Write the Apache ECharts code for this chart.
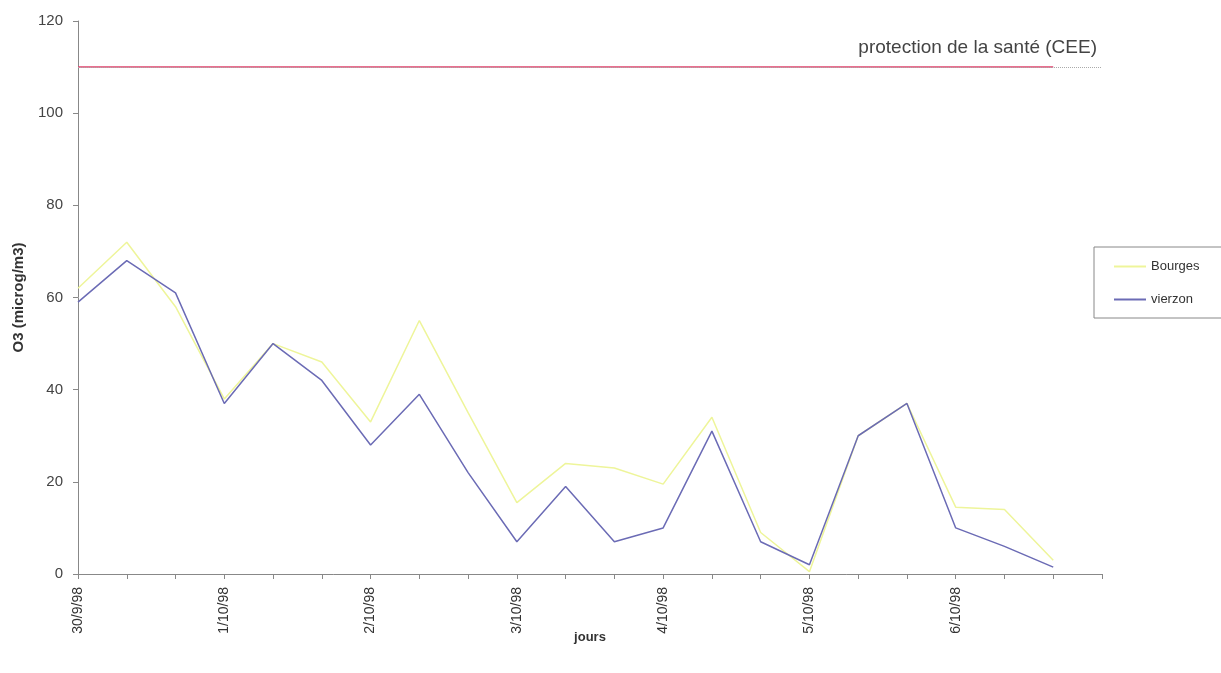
<!DOCTYPE html>
<html>
<head>
<meta charset="utf-8">
<script src="https://cdn.jsdelivr.net/npm/echarts@6/dist/echarts.min.js"></script>
<style>html,body{margin:0;padding:0;background:#fff;}#c{width:1221px;height:673px;}</style>
</head>
<body>
<div id="c"></div>
<script>
const dayLabels = ['30/9/98','1/10/98','2/10/98','3/10/98','4/10/98','5/10/98','6/10/98'];
const slots = ['0','1','2','3','4','5','6','7','8','9','10','11','12','13','14','15','16','17','18','19','20','21'];
const bourges = [62,72,58,38,50,46,33,55,35,15.5,24,23,19.5,34,9,0.5,30,37,14.5,14,3];
const vierzon = [59,68,61,37,50,42,28,39,22,7,19,7,10,31,7,2,30,37,10,6,1.5];
const seuil = [110,110,110,110,110,110,110,110,110,110,110,110,110,110,110,110,110,110,110,110,110];
const seuilLabel = 'protection de la santé (CEE)';
const seuilValue = 110;

const chart = echarts.init(document.getElementById('c'));
const font = 'Liberation Sans, Arial, sans-serif';
chart.setOption({
  animation: false,
  textStyle: { fontFamily: font },
  grid: { left: 78, right: 119, top: 21, bottom: 99 },
  legend: {
    orient: 'vertical',
    left: 1094, top: 247,
    padding: [13, 40, 12, 20],
    icon: 'rect',
    itemWidth: 32, itemHeight: 2, itemGap: 20,
    borderColor: '#888', borderWidth: 1,
    textStyle: { fontSize: 13, color: '#333', fontFamily: font },
    data: ['Bourges', 'vierzon']
  },
  xAxis: {
    type: 'category',
    data: slots,
    boundaryGap: false,
    name: 'jours',
    nameLocation: 'middle',
    nameGap: 63,
    nameMoveOverlap: false,
    nameTextStyle: { fontSize: 13, fontWeight: 'bold', color: '#333', verticalAlign: 'middle' },
    axisLine: { lineStyle: { color: '#888' } },
    axisTick: { show: true, interval: 0, length: 5, lineStyle: { color: '#888' } },
    axisLabel: {
      interval: 0, rotate: 90, fontSize: 14, color: '#333', margin: 13,
      formatter: (v, i) => (i % 3 === 0 && dayLabels[i / 3]) ? dayLabels[i / 3] : ''
    },
    splitLine: { show: false }
  },
  yAxis: {
    type: 'value',
    min: 0, max: 120, interval: 20,
    name: 'O3 (microg/m3)',
    nameLocation: 'middle',
    nameRotate: 90,
    nameGap: 52,
    nameTextStyle: { fontSize: 15, fontWeight: 'bold', color: '#333' },
    axisLine: { show: true, lineStyle: { color: '#888' } },
    axisTick: { show: true, length: 5, lineStyle: { color: '#888' } },
    axisLabel: { fontSize: 15, color: '#444', margin: 15 },
    splitLine: { show: false }
  },
  series: [
    {
      name: 'seuil', type: 'line', data: seuil, symbol: 'none',
      lineStyle: { color: '#e2426c', width: 1.5 }, z: 3,
      markLine: {
        silent: true, symbol: 'none',
        lineStyle: { color: '#aaa', type: 'dotted', width: 1 },
        label: { show: true, position: 'insideEndTop', formatter: seuilLabel,
                 fontSize: 19, color: '#444', distance: [5, 10], fontFamily: font },
        data: [{ yAxis: seuilValue }]
      }
    },
    {
      name: 'Bourges', type: 'line', data: bourges, symbol: 'none',
      lineStyle: { color: '#eef59a', width: 1.5 }, itemStyle: { color: '#eef59a' }, z: 2
    },
    {
      name: 'vierzon', type: 'line', data: vierzon, symbol: 'none',
      lineStyle: { color: '#6b6bb5', width: 1.5 }, itemStyle: { color: '#6b6bb5' }, z: 4
    }
  ]
});
</script>
</body>
</html>
